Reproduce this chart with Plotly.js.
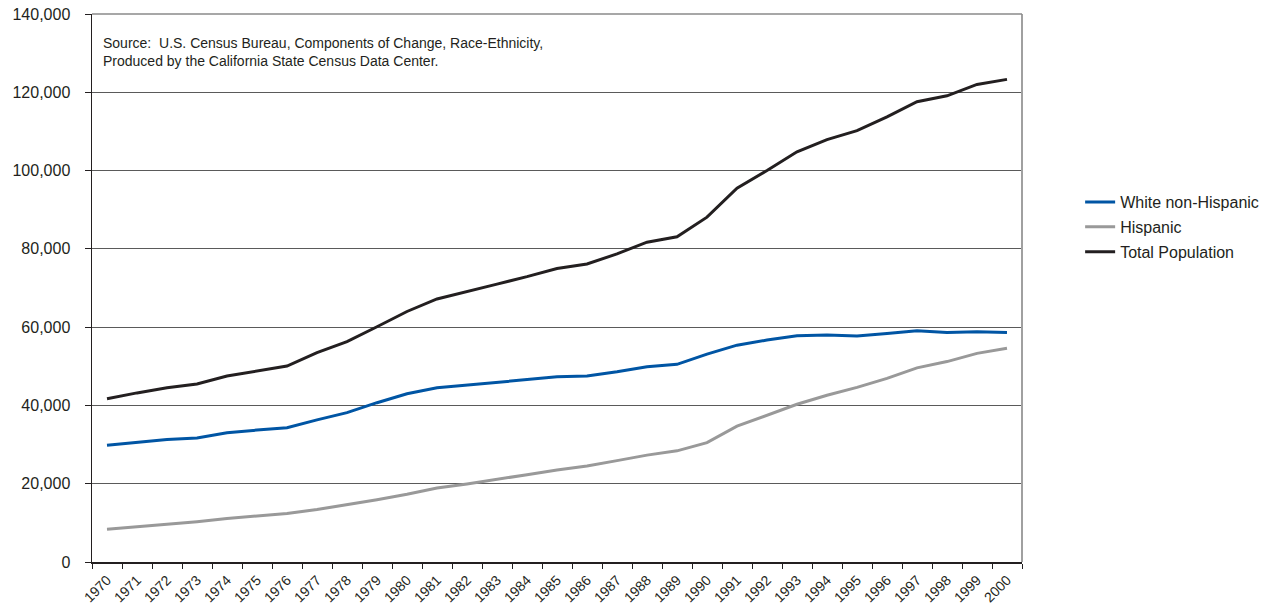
<!DOCTYPE html>
<html>
<head>
<meta charset="utf-8">
<script src="https://cdn.plot.ly/plotly-3.0.1.min.js"></script>
<style>html,body{margin:0;padding:0;background:#fff;}#chart{width:1272px;height:605px;}</style>
</head>
<body>
<div id="chart"></div>
<script>
const years = ['1970','1971','1972','1973','1974','1975','1976','1977','1978','1979','1980','1981','1982','1983','1984','1985','1986','1987','1988','1989','1990','1991','1992','1993','1994','1995','1996','1997','1998','1999','2000'];
const whiteNonHispanic = [29800,30600,31300,31700,33000,33700,34300,36300,38150,40700,43000,44500,45200,46000,46700,47300,47500,48600,49900,50500,53100,55400,56700,57800,58000,57750,58400,59100,58600,58850,58600];
const hispanic = [8350,8950,9700,10300,11100,11750,12400,13400,14560,15900,17300,18900,19950,21200,22300,23500,24500,25900,27300,28400,30500,34700,37600,40300,42600,44600,46900,49600,51200,53300,54600];
const totalPopulation = [41700,43200,44500,45500,47500,48800,50050,53500,56300,60100,64000,67200,69000,71000,72900,75000,76140,78700,81700,83100,88100,95500,100000,104800,107900,110200,113700,117600,119100,122000,123300];
const seriesNames = ['White non-Hispanic','Hispanic','Total Population'];
const sourceLines = ['Source:  U.S. Census Bureau, Components of Change, Race-Ethnicity,','Produced by the California State Census Data Center.'];

const colors = ['#0055a4','#999999','#231f20'];
const seriesData = [whiteNonHispanic, hispanic, totalPopulation];
const traces = seriesData.map((vals, i) => ({
  type: 'scatter', mode: 'lines', x: years, y: vals, name: seriesNames[i],
  legendgroup: 'g' + i,
  line: {color: colors[i], width: 3}, hoverinfo: 'x+y+name'
}));

const fontFam = '"Liberation Sans", Arial, sans-serif';
const layout = {
  width: 1272, height: 605,
  margin: {l: 92, r: 250, t: 14, b: 43, pad: 0, autoexpand: false},
  paper_bgcolor: '#fff', plot_bgcolor: '#fff',
  font: {family: fontFam, color: '#231f20', size: 14},
  showlegend: true,
  legend: {x: 1.0625, xanchor: 'left', y: 0.611, yanchor: 'middle', font: {size: 16, family: fontFam, color: '#231f20'}, tracegroupgap: 1, itemwidth: 30, bgcolor: 'rgba(0,0,0,0)', borderwidth: 0},
  xaxis: {
    type: 'category', range: [-0.5, 30.5], tickangle: -45, tickson: 'boundaries',
    ticks: 'outside', ticklen: 5, tickcolor: '#231f20', tickwidth: 1,
    showline: true, linecolor: '#231f20', linewidth: 1.5, showgrid: false,
    ticklabelstandoff: 3, automargin: false,
    tickfont: {size: 14, family: fontFam, color: '#231f20'}, fixedrange: true
  },
  yaxis: {
    range: [0, 140000], dtick: 20000, tick0: 0, tickformat: ',d',
    ticks: 'outside', ticklen: 6, tickcolor: '#231f20', tickwidth: 1,
    showline: true, linecolor: '#231f20', linewidth: 1.5,
    showgrid: true, gridcolor: '#5a5a5a', gridwidth: 1, zeroline: false,
    ticklabelstandoff: 11, automargin: false,
    tickfont: {size: 16, family: fontFam, color: '#231f20'}, fixedrange: true
  },
  shapes: [
    {type: 'line', xref: 'paper', yref: 'paper', x0: 1, x1: 1, y0: 0, y1: 1, line: {color: '#a0a0a0', width: 2}},
    {type: 'line', xref: 'paper', yref: 'paper', x0: 0, x1: 1, y0: 1, y1: 1, line: {color: '#8a8a8a', width: 1.5}}
  ],
  annotations: [{
    xref: 'paper', yref: 'paper', x: 0.01, y: 0.965, xanchor: 'left', yanchor: 'top', align: 'left',
    showarrow: false, text: sourceLines.join('<br>'),
    font: {size: 14, family: fontFam, color: '#231f20'}
  }]
};
Plotly.newPlot('chart', traces, layout, {displayModeBar: false, staticPlot: true});
</script>
</body>
</html>
